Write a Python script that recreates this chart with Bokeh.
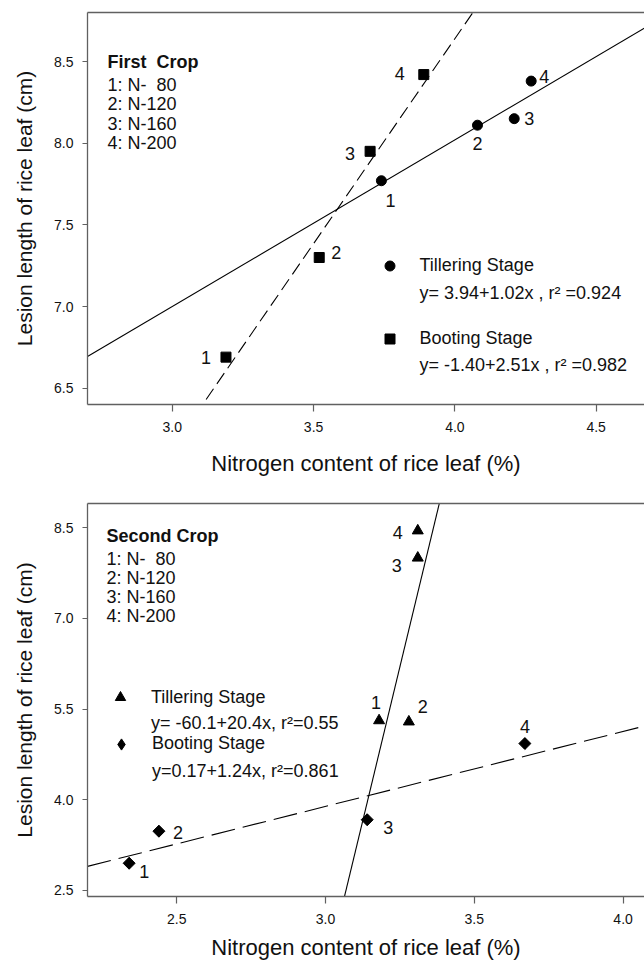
from bokeh.plotting import figure
from bokeh.models import (Range1d, LinearAxis, FixedTicker, ColumnDataSource,
                          Legend, LegendItem, Label, PrintfTickFormatter)
from bokeh.layouts import column
from bokeh.embed import file_html
from bokeh.resources import INLINE
from bokeh.core.properties import value
import math

FONT = "Liberation Sans"

# ---------------- data ----------------
point_labels = ["1", "2", "3", "4"]
treatments = ["1: N-\u00a0 80", "2: N-120", "3: N-160", "4: N-200"]
x_title = "Nitrogen content of rice leaf (%)"
y_title = "Lesion length of rice leaf (cm)"

c1_title = "First\u00a0 Crop"
c1_till_n = [3.74, 4.08, 4.21, 4.27]
c1_till_lesion = [7.77, 8.11, 8.15, 8.38]
c1_boot_n = [3.19, 3.52, 3.70, 3.89]
c1_boot_lesion = [6.69, 7.30, 7.95, 8.42]
c1_till_fit = [3.94, 1.02]
c1_boot_fit = [-1.40, 2.51]
c1_till_eq = "y= 3.94+1.02x , r\u00b2 =0.924"
c1_boot_eq = "y= -1.40+2.51x , r\u00b2 =0.982"
c1_xticks = [3.0, 3.5, 4.0, 4.5]
c1_yticks = [6.5, 7.0, 7.5, 8.0, 8.5]
c1_xrange = [2.7, 4.671]
c1_yrange = [6.4, 8.8]

c2_title = "Second Crop"
c2_till_n = [3.18, 3.28, 3.31, 3.31]
c2_till_lesion = [5.31, 5.29, 8.00, 8.45]
c2_boot_n = [2.34, 2.44, 3.14, 3.67]
c2_boot_lesion = [2.95, 3.48, 3.67, 4.93]
c2_till_fit = [-60.1, 20.4]
c2_boot_fit = [0.17, 1.24]
c2_till_eq = "y= -60.1+20.4x, r\u00b2=0.55"
c2_boot_eq = "y=0.17+1.24x, r\u00b2=0.861"
c2_xticks = [2.5, 3.0, 3.5, 4.0]
c2_yticks = [2.5, 4.0, 5.5, 7.0, 8.5]
c2_xrange = [2.2, 4.072]
c2_yrange = [2.4, 8.9]

# ---------------- styles (label offsets in px: right, down) ----------------
c1_till_off = [(9, 20), (0, 18), (15, 0), (13, -5)]
c1_boot_off = [(-20, 0), (17, -5), (-20, 2), (-24, -1)]
c2_till_off = [(-3, -18), (14, -15), (-21, 8), (-20, 2)]
c2_boot_off = [(15, 8), (19, 1), (21, 8), (0, -17)]

AX = "#606060"
W = 644
LEFT = 87
TXT = "18px"


def style_axes(p, xticks, yticks, title_standoff):
    p.xaxis.ticker = FixedTicker(ticks=xticks)
    p.yaxis.ticker = FixedTicker(ticks=yticks)
    for ax in (p.xaxis[0], p.yaxis[0]):
        ax.formatter = PrintfTickFormatter(format="%.1f")
        ax.axis_line_color = AX
        ax.axis_line_width = 1.3
        ax.major_tick_line_color = AX
        ax.major_tick_line_width = 1.2
        ax.major_tick_in = 0
        ax.minor_tick_line_color = None
        ax.major_label_text_font = FONT
        ax.major_label_text_font_size = "14px"
        ax.major_label_text_color = "#111111"
        ax.axis_label_text_font = FONT
        ax.axis_label_text_font_style = "normal"
        ax.axis_label_text_color = "#111111"
    p.xaxis.major_tick_out = 7
    p.xaxis.major_label_standoff = 10
    p.xaxis.axis_label = x_title
    p.xaxis.axis_label_text_font_size = "22px"
    p.xaxis.axis_label_standoff = title_standoff
    p.yaxis.major_tick_out = 5
    p.yaxis.major_label_standoff = 9
    p.yaxis.axis_label = y_title
    p.yaxis.axis_label_text_font_size = "21px"
    p.yaxis.axis_label_standoff = 15
    top = LinearAxis(ticker=FixedTicker(ticks=[]), major_label_text_font_size="0px",
                     major_tick_out=0, major_tick_in=0, major_label_standoff=0,
                     minor_tick_line_color=None, axis_line_color=AX, axis_line_width=1.3)
    p.add_layout(top, "above")


def fit_line(p, fit, xr, dash):
    xs = [xr[0], xr[1]]
    ys = [fit[0] + fit[1] * v for v in xs]
    p.line(xs, ys, line_color="black", line_width=1.1, line_dash=dash)


def num_labels(p, xs, ys, offs):
    src = ColumnDataSource(dict(x=xs, y=ys, t=point_labels,
                                dx=[o[0] for o in offs], dy=[o[1] for o in offs]))
    p.text(x="x", y="y", text="t", x_offset="dx", y_offset="dy", source=src,
           text_align="center", text_baseline="middle",
           text_font=value(FONT), text_font_size=TXT, text_color="#111111")


def block_text(p, title, x, y0, pitch):
    p.add_layout(Label(x=x, y=y0, x_units="screen", y_units="screen", text=title,
                       text_font=FONT, text_font_size=TXT, text_font_style="bold",
                       text_baseline="middle", text_color="#111111"))
    for i, t in enumerate(treatments):
        p.add_layout(Label(x=x, y=y0 - 23 - i * pitch, x_units="screen", y_units="screen",
                           text=t, text_font=FONT, text_font_size=TXT,
                           text_baseline="middle", text_color="#111111"))


def make_legend(p, items, loc, glyph, standoff, spacing):
    leg = Legend(items=items, location=loc, orientation="vertical",
                 background_fill_alpha=0, border_line_alpha=0,
                 label_text_font=FONT, label_text_font_size=TXT,
                 label_text_color="#111111",
                 glyph_height=glyph, glyph_width=glyph, label_height=20,
                 label_standoff=standoff, spacing=spacing, padding=0, margin=0)
    p.add_layout(leg)


# ---------------- first crop ----------------
p1 = figure(width=W, height=480, x_range=Range1d(*c1_xrange), y_range=Range1d(*c1_yrange),
            output_backend="svg", toolbar_location=None,
            min_border_left=LEFT, min_border_right=0, min_border_top=12, min_border_bottom=76)
p1.xgrid.visible = False
p1.ygrid.visible = False
p1.outline_line_color = None
style_axes(p1, c1_xticks, c1_yticks, 16)

fit_line(p1, c1_till_fit, c1_xrange, "solid")
fit_line(p1, c1_boot_fit, c1_xrange, "13 6")
r1t = p1.scatter(c1_till_n, c1_till_lesion, marker="circle", size=10,
                 fill_color="black", line_color="black")
r1b = p1.scatter(c1_boot_n, c1_boot_lesion, marker="square", size=10,
                 fill_color="black", line_color="black")
d1 = p1.scatter([], [], marker="circle", fill_alpha=0, line_alpha=0)
num_labels(p1, c1_till_n, c1_till_lesion, c1_till_off)
num_labels(p1, c1_boot_n, c1_boot_lesion, c1_boot_off)
block_text(p1, c1_title, 20, 342.6, 19.5)
make_legend(p1, [LegendItem(label=value("Tillering Stage"), renderers=[r1t]),
                 LegendItem(label=value(c1_till_eq), renderers=[d1])],
            (289.5, 98.5), 25, 18, 3)
make_legend(p1, [LegendItem(label=value("Booting Stage"), renderers=[r1b]),
                 LegendItem(label=value(c1_boot_eq), renderers=[d1])],
            (289.5, 26), 25, 18, 2)

# ---------------- second crop ----------------
p2 = figure(width=W, height=485, x_range=Range1d(*c2_xrange), y_range=Range1d(*c2_yrange),
            output_backend="svg", toolbar_location=None,
            min_border_left=LEFT, min_border_right=0, min_border_top=23, min_border_bottom=69)
p2.xgrid.visible = False
p2.ygrid.visible = False
p2.outline_line_color = None
style_axes(p2, c2_xticks, c2_yticks, 8)

fit_line(p2, c2_till_fit, c2_xrange, "solid")
fit_line(p2, c2_boot_fit, c2_xrange, "24 8")
r2t = p2.scatter(c2_till_n, c2_till_lesion, marker="triangle", size=11,
                 fill_color="black", line_color="black")
# diamond key (hidden under the rotated squares) used for the legend glyph
k2b = p2.scatter(c2_boot_n, c2_boot_lesion, marker="diamond", size=11,
                 fill_color="black", line_color="black")
r2b = p2.scatter(c2_boot_n, c2_boot_lesion, marker="square", size=8.5, angle=math.pi / 4,
                 fill_color="black", line_color="black")
d2 = p2.scatter([], [], marker="circle", fill_alpha=0, line_alpha=0)
num_labels(p2, c2_till_n, c2_till_lesion, c2_till_off)
num_labels(p2, c2_boot_n, c2_boot_lesion, c2_boot_off)
block_text(p2, c2_title, 19, 360.7, 19)
make_legend(p2, [LegendItem(label=value("Tillering Stage"), renderers=[r2t]),
                 LegendItem(label=value(c2_till_eq), renderers=[d2])],
            (20, 159.7), 26, 18, 0)
make_legend(p2, [LegendItem(label=value("Booting Stage"), renderers=[k2b]),
                 LegendItem(label=value(c2_boot_eq), renderers=[d2])],
            (20, 110.5), 28, 17, -2)

layout = column(p1, p2)
open("out.html", "w").write(file_html(layout, INLINE))
